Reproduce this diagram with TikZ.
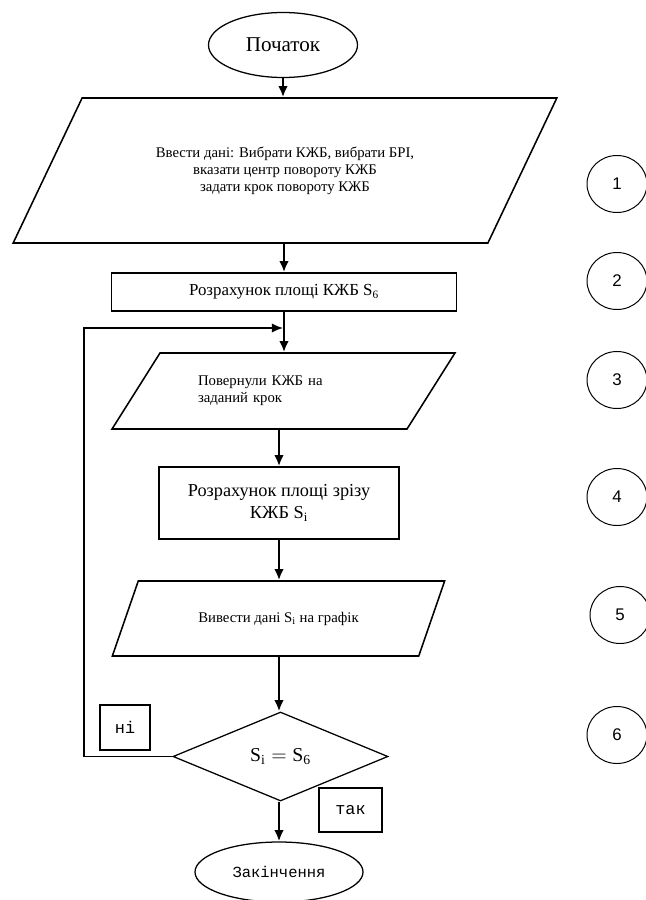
\documentclass[tikz,border=0pt]{standalone}
\usepackage{fontspec}
\setmainfont{Liberation Serif}
\newfontfamily\monofont{Liberation Mono}
\newfontfamily\digitfont{Liberation Sans}
\usepackage{tikz}
\usetikzlibrary{shapes.geometric, arrows.meta}

\begin{document}
\begin{tikzpicture}[
  x=0.25mm, y=-0.25mm,
  shapeline/.style={draw=black, line width=1.1pt, inner sep=0pt},
  term/.style={shapeline, ellipse, line width=0.9pt},
  iobox/.style={shapeline, trapezium, trapezium stretches=true},
  procbox/.style={shapeline, rectangle, align=center},
  decide/.style={shapeline, diamond, line width=0.9pt},
  tagbox/.style={shapeline, rectangle, font=\monofont\fontsize{12}{14}\selectfont},
  stepno/.style={draw=black, line width=0.7pt, ellipse,
                 minimum width=15mm, minimum height=14.25mm,
                 font=\digitfont\fontsize{12}{14}\selectfont},
  arr/.style={-{Latex[length=2.8mm, width=2.4mm]}, line width=1.6pt}
]
  \useasboundingbox (0,0) rectangle (645,900);
  \fill[white] (0,0) rectangle (645,900);

  % main column
  \node[term, minimum width=37.25mm, minimum height=16.25mm,
        font=\fontsize{15}{18}\selectfont] (start) at (283,45) {Початок};
  \node[iobox, trapezium left angle=47.26, trapezium right angle=132.74,
        minimum width=136mm, minimum height=36.25mm, align=center,
        font=\fontsize{10.5}{12}\selectfont] (input) at (285,170.5)
    {Ввести дані: Вибрати КЖБ, вибрати БРІ,\\
     вказати центр повороту КЖБ\\
     задати крок повороту КЖБ};
  \node[procbox, minimum width=86.25mm, minimum height=9.5mm,
        font=\fontsize{12}{14}\selectfont] (area) at (284,292)
    {Розрахунок площі КЖБ S\textsubscript{6}};
  \node[iobox, trapezium left angle=41.8, trapezium right angle=138.2,
        minimum width=85.75mm, minimum height=19mm,
        text width=42.75mm, align=left,
        font=\fontsize{10.5}{12}\selectfont] (turn) at (283.5,391)
    {Повернули КЖБ на\\ заданий крок};
  \node[procbox, minimum width=60mm, minimum height=18mm,
        font=\fontsize{13}{15.5}\selectfont] (cut) at (279,503)
    {Розрахунок площі зрізу\\ КЖБ S\textsubscript{i}};
  \node[iobox, trapezium left angle=42.1, trapezium right angle=137.9,
        minimum width=83.25mm, minimum height=18.75mm,
        font=\fontsize{10.5}{12}\selectfont] (output) at (278.5,618.5)
    {Вивести дані S\textsubscript{i} на графік};
  \node[decide, minimum width=53.75mm, minimum height=22.25mm,
        font=\fontsize{14}{16}\selectfont] (cond) at (280.5,756.5)
    {$\mathrm{S_i = S_6}$};
  \node[term, minimum width=42mm, minimum height=15mm,
        font=\monofont\fontsize{11}{13}\selectfont] (stop) at (279,872)
    {Закінчення};

  % branch labels
  \node[tagbox, minimum width=12.5mm, minimum height=11.25mm] (no) at (125,727.5) {ні};
  \node[tagbox, minimum width=15.75mm, minimum height=11mm] (yes) at (350.5,810) {так};

  % step numbers
  \node[stepno] (n1) at (617,184) {1};
  \node[stepno] (n2) at (617,281) {2};
  \node[stepno] (n3) at (617,380) {3};
  \node[stepno] (n4) at (617,497) {4};
  \node[stepno] (n5) at (620,615) {5};
  \node[stepno] (n6) at (617,735) {6};

  \coordinate (back) at (84,328);
  \coordinate (join) at (283,328);

  \draw[arr] (start.south) -- (start.south |- input.north);
  \draw[arr] (area.south |- input.south) -- (area.north);
  \draw[arr] (area.south) -- (area.south |- turn.north);
  \draw[arr] (cut.north |- turn.south) -- (cut.north);
  \draw[arr] (cut.south) -- (cut.south |- output.north);
  \draw[arr] (cut.south |- output.south) -- (cut.south |- cond.north);
  \draw[arr] (cut.south |- cond.south) -- (cut.south |- stop.north);
  \draw[arr, line width=1.3pt] (cond.west) -| (back) -- (join);
\end{tikzpicture}
\end{document}
